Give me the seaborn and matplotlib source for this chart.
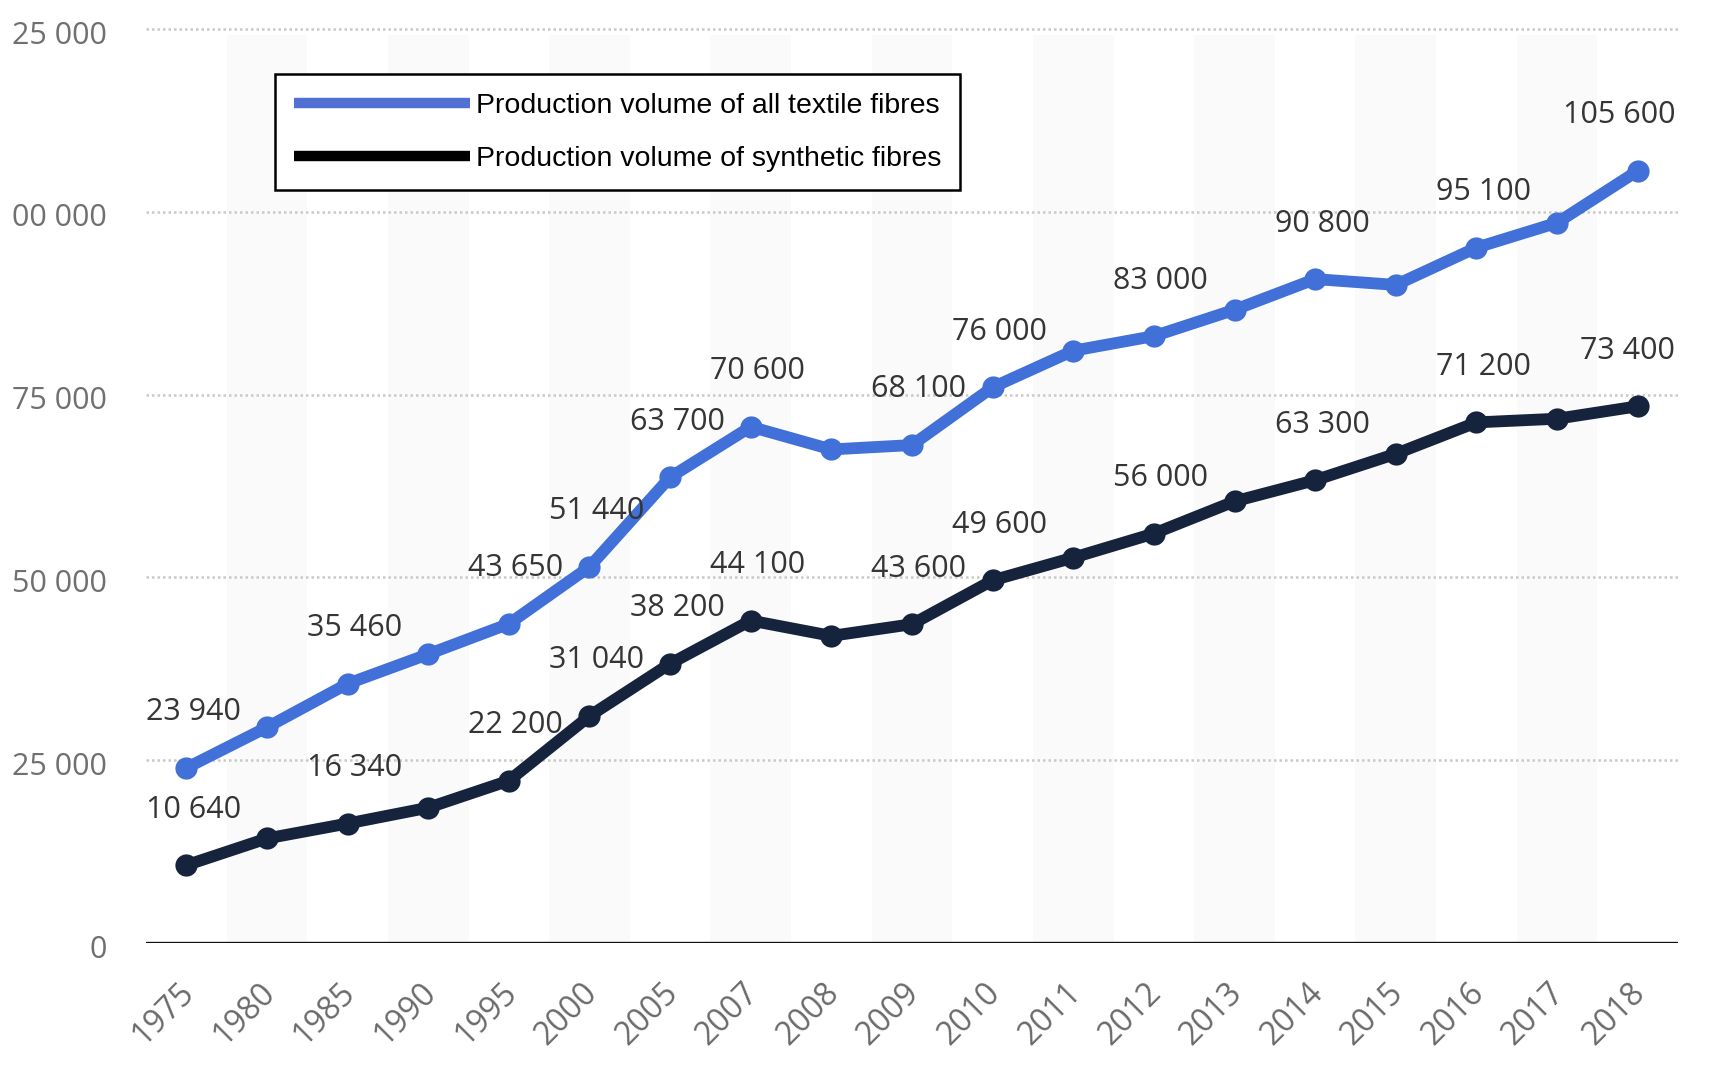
import matplotlib
matplotlib.use("Agg")
import matplotlib.pyplot as plt
from matplotlib.lines import Line2D
from matplotlib import font_manager
import matplotlib.transforms as mtransforms
import seaborn as sns
import pandas as pd

years = ["1975", "1980", "1985", "1990", "1995", "2000", "2005", "2007", "2008", "2009",
         "2010", "2011", "2012", "2013", "2014", "2015", "2016", "2017", "2018"]
all_fibres = [23940, 29500, 35460, 39500, 43650, 51440, 63700, 70600, 67500, 68100,
              76000, 81000, 83000, 86600, 90800, 90000, 95100, 98500, 105600]
synthetic_fibres = [10640, 14300, 16340, 18500, 22200, 31040, 38200, 44100, 42000, 43600,
                    49600, 52700, 56000, 60400, 63300, 66900, 71200, 71700, 73400]
labelled = [0, 2, 4, 5, 6, 7, 9, 10, 12, 14, 16, 18]
y_ticks = [0, 25000, 50000, 75000, 100000, 125000]
y_tick_labels = ["0", "25 000", "50 000", "75 000", "00 000", "25 000"]
series_names = ["Production volume of all textile fibres", "Production volume of synthetic fibres"]

BLUE = "#4170d8"
NAVY = "#15233d"

sns.set_theme(style="white")
plt.rcParams["font.family"] = ["Open Sans", "DejaVu Sans"]

avail = {f.name for f in font_manager.fontManager.ttflist}
if "Liberation Sans Narrow" in avail:
    legend_font = dict(family="Liberation Sans Narrow", size=23)
else:
    legend_font = dict(family="Liberation Sans", size=20.5)

n = len(years)
df = pd.DataFrame({
    "pos": list(range(n)) * 2,
    "value": all_fibres + synthetic_fibres,
    "series": [series_names[0]] * n + [series_names[1]] * n,
})

fig = plt.figure(figsize=(17.23, 10.74), dpi=100)
ax = fig.add_axes([146 / 1723, 1 - 943 / 1074, (1678 - 146) / 1723, (943 - 29) / 1074])

ax.set_xlim(-0.5, n - 0.5)
ax.set_ylim(0, 125000)

for i in range(1, n, 2):
    ax.axvspan(i - 0.5, i + 0.5, ymin=0, ymax=0.993, color="#fafafa", zorder=0, lw=0)

for yt in y_ticks[1:]:
    ax.axhline(yt, color="#c9c9c9", lw=1.8, ls=(0, (1, 1.2)), zorder=1, clip_on=False)
ax.axhline(0, color="#111111", lw=2.4, zorder=2)

sns.lineplot(data=df, x="pos", y="value", hue="series",
             palette={series_names[0]: BLUE, series_names[1]: NAVY},
             marker="o", markersize=16, markeredgewidth=0, linewidth=8.5,
             legend=False, ax=ax, zorder=3)

def fmt(v):
    return f"{v:,}".replace(",", " ")

for vals in (all_fibres, synthetic_fibres):
    for i in labelled:
        if i == n - 1:
            ax.annotate(fmt(vals[i]), xy=(n - 0.5, vals[i]), xytext=(-2, 40),
                        textcoords="offset points", ha="right", va="center",
                        fontsize=22, color="#353535", zorder=4)
        else:
            ax.annotate(fmt(vals[i]), xy=(i, vals[i]), xytext=(5, 40),
                        textcoords="offset points", ha="center", va="center",
                        fontsize=22, color="#353535", zorder=4)

ax.set_xticks(range(n))
ax.set_xticklabels(years, rotation=45, ha="right", rotation_mode="anchor",
                   fontsize=23, color="#6a6a6a")
ax.set_yticks(y_ticks)
ax.set_yticklabels(y_tick_labels, fontsize=22, color="#707070")
ax.tick_params(axis="y", length=0, pad=28)
ax.tick_params(axis="x", length=0, pad=24)
ax.set_xlabel("")
ax.set_ylabel("")
for s in ax.spines.values():
    s.set_visible(False)
ax.grid(False)
ax.set_facecolor("white")

shift_x = mtransforms.ScaledTranslation(-9 / 100, 0, fig.dpi_scale_trans)
for lab in ax.get_xticklabels():
    lab.set_transform(lab.get_transform() + shift_x)
shift_y = mtransforms.ScaledTranslation(0, -3 / 100, fig.dpi_scale_trans)
for lab in ax.get_yticklabels():
    lab.set_transform(lab.get_transform() + shift_y)

handles = [Line2D([], [], color="#5070d3", lw=7.5, solid_capstyle="butt"),
           Line2D([], [], color="black", lw=7.5, solid_capstyle="butt")]
leg = fig.legend(handles, series_names, loc="upper left",
                 bbox_to_anchor=(275 / 1723, 1 - 74 / 1074),
                 prop=legend_font, frameon=True, fancybox=False,
                 edgecolor="black", facecolor="white", framealpha=1,
                 handlelength=6.2, handletextpad=0.2, borderpad=0.65,
                 labelspacing=0.95, borderaxespad=0)
leg.get_frame().set_linewidth(1.8)
for t in leg.get_texts():
    t.set_color("black")

fig.savefig("out.png", dpi=100)
